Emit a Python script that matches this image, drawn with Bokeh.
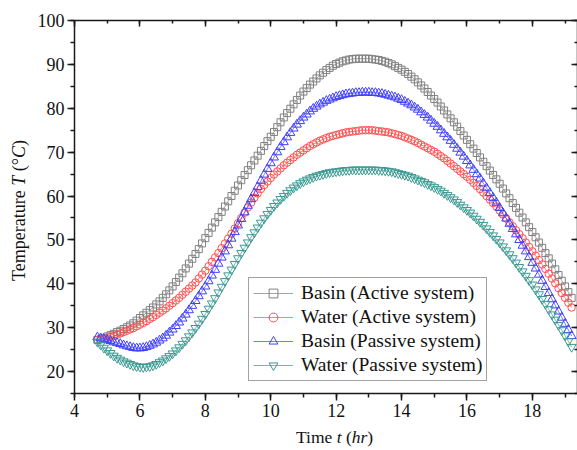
from bokeh.plotting import figure
from bokeh.layouts import row, column
from bokeh.models import (LinearAxis, Range1d, Legend, LegendItem, Div,
                          SingleIntervalTicker, ColumnDataSource)
from bokeh.embed import file_html
from bokeh.resources import INLINE

# ---------------- data ----------------
time_start = 4.7   # hr, first sample
time_step = 0.1    # hr between samples

basin_active = [
    27.2, 27.4, 27.7, 28.0, 28.3, 28.6, 29.0, 29.3, 29.7, 30.1,
    30.5, 31.0, 31.6, 32.2, 32.8, 33.4, 34.0, 34.6, 35.3, 36.0,
    36.8, 37.6, 38.5, 39.4, 40.4, 41.4, 42.4, 43.5, 44.6, 45.7,
    46.8, 47.9, 49.2, 50.4, 51.6, 52.8, 54.0, 55.2, 56.4, 57.6,
    58.8, 60.0, 61.2, 62.4, 63.6, 64.8, 65.9, 67.0, 68.1, 69.2,
    70.3, 71.4, 72.5, 73.5, 74.6, 75.7, 76.8, 77.9, 78.9, 79.9,
    80.9, 81.9, 82.9, 83.8, 84.6, 85.4, 86.1, 86.8, 87.5, 88.1,
    88.7, 89.2, 89.7, 90.1, 90.4, 90.7, 90.9, 91.1, 91.2, 91.3,
    91.3, 91.3, 91.3, 91.3, 91.2, 91.1, 91.0, 90.8, 90.6, 90.3,
    90.0, 89.6, 89.2, 88.8, 88.3, 87.8, 87.2, 86.6, 85.9, 85.2,
    84.5, 83.7, 82.9, 82.1, 81.3, 80.4, 79.5, 78.6, 77.7, 76.8,
    75.8, 74.8, 73.8, 72.8, 71.8, 70.8, 69.8, 68.8, 67.8, 66.8,
    65.8, 64.8, 63.8, 62.8, 61.7, 60.6, 59.5, 58.4, 57.3, 56.2,
    55.1, 54.0, 52.9, 51.8, 50.6, 49.4, 48.2, 47.0, 45.8, 44.6,
    43.3, 42.0, 40.7, 39.4, 38.1, 36.8,
]

water_active = [
    27.2, 27.3, 27.4, 27.6, 27.9, 28.1, 28.4, 28.7, 29.0, 29.3,
    29.6, 29.9, 30.3, 30.7, 31.1, 31.5, 32.0, 32.4, 32.9, 33.4,
    33.9, 34.4, 35.0, 35.6, 36.2, 36.8, 37.5, 38.2, 38.9, 39.6,
    40.3, 41.2, 42.1, 43.0, 44.0, 45.0, 46.0, 47.0, 48.1, 49.2,
    50.3, 51.4, 52.6, 53.8, 55.0, 56.2, 57.4, 58.5, 59.6, 60.6,
    61.6, 62.5, 63.3, 64.1, 64.9, 65.6, 66.3, 67.0, 67.6, 68.2,
    68.8, 69.4, 69.9, 70.4, 70.9, 71.4, 71.8, 72.2, 72.6, 72.9,
    73.2, 73.5, 73.7, 73.9, 74.1, 74.3, 74.5, 74.6, 74.7, 74.8,
    74.9, 75.0, 75.0, 75.0, 75.0, 74.9, 74.8, 74.7, 74.6, 74.5,
    74.3, 74.1, 73.9, 73.7, 73.4, 73.1, 72.8, 72.5, 72.1, 71.7,
    71.3, 70.9, 70.5, 70.1, 69.6, 69.1, 68.6, 68.0, 67.4, 66.8,
    66.2, 65.6, 65.0, 64.4, 63.7, 63.0, 62.3, 61.6, 60.8, 60.0,
    59.2, 58.4, 57.6, 56.7, 55.8, 54.9, 54.0, 53.1, 52.2, 51.3,
    50.4, 49.4, 48.4, 47.4, 46.4, 45.4, 44.4, 43.4, 42.3, 41.2,
    40.1, 39.0, 37.9, 36.8, 35.7, 34.6,
]

basin_passive = [
    27.8, 27.6, 27.4, 27.2, 27.0, 26.7, 26.5, 26.3, 26.0, 25.8,
    25.6, 25.4, 25.3, 25.3, 25.4, 25.6, 25.9, 26.2, 26.6, 27.1,
    27.6, 28.2, 28.9, 29.6, 30.4, 31.2, 32.1, 33.0, 34.0, 35.0,
    36.1, 37.2, 38.3, 39.4, 40.6, 41.9, 43.2, 44.6, 46.0, 47.4,
    48.8, 50.3, 51.8, 53.3, 54.8, 56.3, 57.8, 59.3, 60.7, 62.1,
    63.5, 64.9, 66.2, 67.5, 68.8, 70.0, 71.2, 72.3, 73.4, 74.4,
    75.4, 76.3, 77.1, 77.9, 78.6, 79.3, 79.9, 80.4, 80.9, 81.3,
    81.7, 82.0, 82.3, 82.6, 82.8, 83.0, 83.2, 83.3, 83.4, 83.5,
    83.5, 83.6, 83.6, 83.6, 83.5, 83.5, 83.4, 83.3, 83.1, 82.9,
    82.7, 82.5, 82.2, 81.9, 81.5, 81.1, 80.7, 80.2, 79.7, 79.1,
    78.5, 77.9, 77.2, 76.5, 75.8, 75.0, 74.2, 73.4, 72.6, 71.7,
    70.8, 69.9, 69.0, 68.0, 67.0, 66.0, 65.0, 64.0, 62.9, 61.8,
    60.7, 59.6, 58.5, 57.3, 56.1, 54.9, 53.7, 52.5, 51.3, 50.0,
    48.7, 47.4, 46.1, 44.8, 43.5, 42.1, 40.7, 39.3, 37.9, 36.5,
    35.1, 33.7, 32.3, 30.9, 29.5, 28.1,
]

water_passive = [
    26.8, 26.1, 25.4, 24.8, 24.2, 23.6, 23.1, 22.7, 22.3, 22.0,
    21.7, 21.4, 21.2, 21.1, 21.0, 21.1, 21.2, 21.4, 21.7, 22.1,
    22.5, 23.0, 23.5, 24.1, 24.8, 25.5, 26.3, 27.1, 28.0, 28.9,
    29.9, 30.9, 32.0, 33.1, 34.3, 35.5, 36.7, 38.0, 39.3, 40.6,
    41.9, 43.2, 44.5, 45.8, 47.0, 48.2, 49.4, 50.6, 51.7, 52.8,
    53.9, 54.9, 55.9, 56.8, 57.7, 58.5, 59.3, 60.0, 60.7, 61.3,
    61.9, 62.4, 62.9, 63.3, 63.7, 64.0, 64.3, 64.6, 64.8, 65.0,
    65.2, 65.4, 65.5, 65.6, 65.7, 65.8, 65.9, 65.9, 66.0, 66.0,
    66.0, 66.0, 66.0, 66.0, 66.0, 66.0, 65.9, 65.9, 65.8, 65.7,
    65.6, 65.4, 65.2, 65.0, 64.8, 64.6, 64.3, 64.0, 63.7, 63.4,
    63.1, 62.7, 62.4, 62.0, 61.6, 61.2, 60.7, 60.2, 59.7, 59.2,
    58.6, 58.0, 57.4, 56.8, 56.2, 55.5, 54.8, 54.1, 53.4, 52.6,
    51.8, 51.0, 50.2, 49.4, 48.5, 47.6, 46.7, 45.8, 44.8, 43.8,
    42.8, 41.8, 40.8, 39.8, 38.7, 37.6, 36.5, 35.4, 34.2, 33.0,
    31.8, 30.6, 29.4, 28.2, 26.9, 25.6,
]

series_labels = [
    "Basin (Active system)",
    "Water (Active system)",
    "Basin (Passive system)",
    "Water (Passive system)",
]

n_samples = len(basin_active)
time_hr = [round(time_start + time_step * i, 1) for i in range(n_samples)]

# ---------------- styling ----------------
FONT = "Liberation Serif"
series_values = [basin_active, water_active, basin_passive, water_passive]
series_colors = ["#808080", "#ff4f4f", "#4040ff", "#3a9a92"]
series_markers = ["square", "circle", "triangle", "inverted_triangle"]
series_sizes = [7, 7.5, 9, 9]

MAIN_W, MAIN_H = 543, 425
XT_H = 24
YT_W = 34

p = figure(width=MAIN_W, height=MAIN_H,
           x_range=Range1d(4, 19.38), y_range=Range1d(15, 100),
           output_backend="svg", toolbar_location=None,
           min_border_left=39, min_border_right=0,
           min_border_top=20, min_border_bottom=32,
           background_fill_color="white", border_fill_color="white",
           outline_line_color=None)
p.grid.visible = False


def style_axis(ax, labels, inside):
    ax.axis_line_width = 1.5
    ax.axis_line_color = "#1a1a1a"
    ax.major_tick_line_color = "#1a1a1a"
    ax.minor_tick_line_color = "#1a1a1a"
    ax.major_tick_line_width = 1.5
    ax.minor_tick_line_width = 1.5
    if inside:
        ax.major_tick_in, ax.major_tick_out = 6, 0
        ax.minor_tick_in, ax.minor_tick_out = 3, 0
    else:
        ax.major_tick_in, ax.major_tick_out = 0, 7
        ax.minor_tick_in, ax.minor_tick_out = 0, 4
    if labels:
        ax.major_label_text_font = FONT
        ax.major_label_text_font_size = "18px"
        ax.major_label_text_color = "#111111"
        ax.major_label_standoff = 3
    else:
        ax.major_label_text_font_size = "1px"
        ax.major_label_text_color = None
        ax.major_label_standoff = 0


p.xaxis.ticker = SingleIntervalTicker(interval=2, num_minor_ticks=2)
p.yaxis.ticker = SingleIntervalTicker(interval=10, num_minor_ticks=2)
for ax in p.xaxis:
    style_axis(ax, True, False)
for ax in p.yaxis:
    style_axis(ax, True, False)

top_ax = LinearAxis(ticker=SingleIntervalTicker(interval=2, num_minor_ticks=2))
style_axis(top_ax, False, True)
p.add_layout(top_ax, "above")
right_ax = LinearAxis(ticker=SingleIntervalTicker(interval=10, num_minor_ticks=2))
style_axis(right_ax, False, True)
p.add_layout(right_ax, "right")

items = []
for vals, lab, col, mk, sz in zip(series_values, series_labels, series_colors,
                                  series_markers, series_sizes):
    src = ColumnDataSource(dict(t=time_hr, v=vals))
    lr = p.line("t", "v", source=src, line_color=col, line_width=1, line_alpha=0.7)
    sr = p.scatter("t", "v", source=src, marker=mk, size=sz,
                   fill_color=None, line_color=col, line_width=1)
    items.append(LegendItem(label=lab, renderers=[lr, sr]))

legend = Legend(items=items, location=(174, 12),
                label_text_font=FONT, label_text_font_size="19.5px",
                label_text_color="#111111",
                glyph_width=40, glyph_height=22, label_height=22,
                label_standoff=8, spacing=2, padding=4, margin=0,
                border_line_color="#444444", border_line_width=1,
                background_fill_color="white", background_fill_alpha=1)
p.add_layout(legend)

# ---------------- axis titles as HTML (upright + italic parts) ----------------
TITLE_CSS = ("font-family:'Liberation Serif'; font-size:17.5px; line-height:20px; "
             "color:#111111; white-space:nowrap; position:absolute;")

x_title_html = (
    f'<div style="position:relative; width:{MAIN_W}px; height:{XT_H}px;">'
    f'<span style="{TITLE_CSS} left:262px; top:2px;">'
    'Time <i>t</i> (<i>hr</i>)</span></div>'
)
y_title_html = (
    f'<div style="position:relative; width:{YT_W}px; height:{MAIN_H + XT_H}px;">'
    f'<span style="{TITLE_CSS} left:9px; top:281px; font-size:18px; '
    'transform:rotate(-90deg); transform-origin:left top;">'
    'Temperature <i>T</i> (°<i>C</i>)</span></div>'
)

xdiv = Div(text=x_title_html, width=MAIN_W, height=XT_H, margin=(0, 0, 0, 0),
           styles={"overflow": "visible"})
ydiv = Div(text=y_title_html, width=YT_W, height=MAIN_H + XT_H, margin=(0, 0, 0, 0),
           styles={"overflow": "visible"})

layout = row(ydiv, column(p, xdiv, spacing=0), spacing=0)
open("out.html", "w").write(file_html(layout, INLINE))
